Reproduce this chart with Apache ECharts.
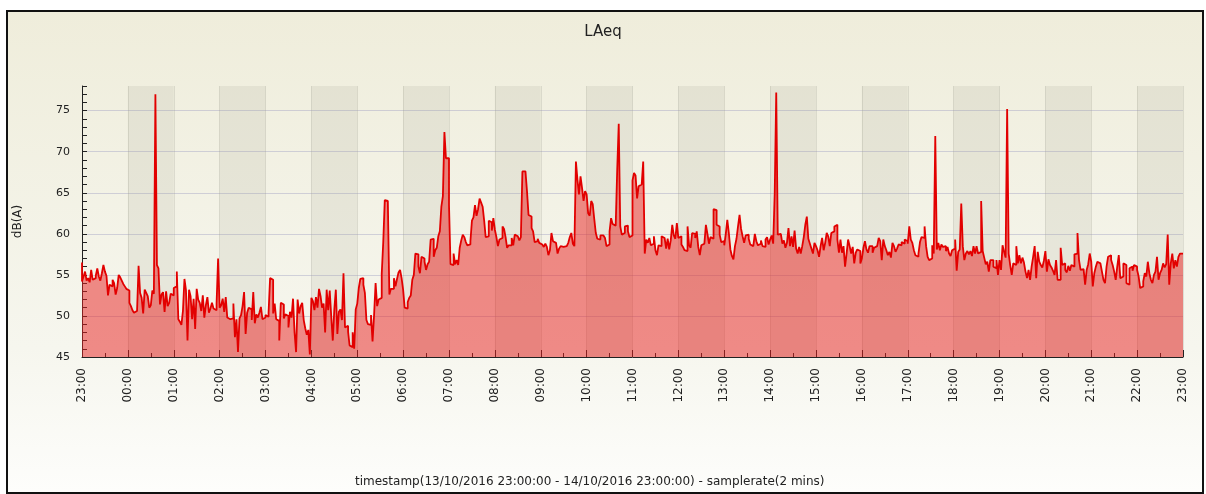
<!DOCTYPE html>
<html>
<head>
<meta charset="utf-8">
<title>LAeq</title>
<script src="https://cdn.jsdelivr.net/npm/echarts@6/dist/echarts.min.js"></script>
<style>
  html, body { margin: 0; padding: 0; background: #fff; }
  #frame {
    position: absolute; left: 6px; top: 10px; width: 1198px; height: 484px;
    box-sizing: border-box; border: 2px solid #111;
    background: linear-gradient(#efeddb, #f6f6ee 70%, #fdfdfb);
  }
  #myChart { position: absolute; left: 0; top: 0; width: 1206px; height: 494px; }
</style>
</head>
<body>
<div id="frame"></div>
<div id="myChart"></div>
<script>
// LAeq dB(A), one value every 2 minutes from 13/10/2016 23:00 to 14/10/2016 23:00
// one line per hour (30 samples), plus the closing sample at 23:00
const laeq = [
  56.5, 54.2, 54.8, 55.4, 54.3, 54.6, 54.1, 55.6, 54.4, 54.6, 54.9, 55.8, 54.8, 54.3, 55.2, 56.2, 55.4, 54.9, 52.5, 53.8, 53.6, 54.4, 54.0, 52.6, 53.4, 55.0, 54.7, 54.3, 53.9, 53.6,
  53.3, 53.1, 51.6, 51.2, 50.7, 50.4, 50.6, 50.5, 56.1, 52.8, 52.2, 50.3, 53.2, 52.8, 52.4, 51.0, 51.3, 53.1, 52.7, 77.0, 56.2, 55.8, 51.4, 52.6, 52.9, 50.5, 53.0, 51.2, 51.6, 52.7,
  52.5, 53.4, 53.6, 55.4, 49.6, 49.3, 48.9, 50.6, 54.5, 53.1, 47.0, 53.2, 52.4, 49.6, 52.1, 48.4, 53.3, 52.0, 51.6, 50.6, 52.5, 49.8, 51.3, 52.3, 50.4, 50.9, 51.6, 50.9, 50.7, 51.5,
  57.0, 51.0, 51.3, 52.1, 50.5, 52.3, 49.8, 49.6, 49.4, 49.7, 51.5, 47.4, 49.6, 45.6, 49.7, 50.1, 51.2, 52.9, 47.8, 50.4, 51.0, 50.8, 49.5, 52.9, 49.1, 50.2, 49.8, 50.4, 51.1, 49.6,
  49.8, 50.1, 49.9, 50.4, 54.6, 54.4, 50.3, 51.5, 49.6, 49.4, 47.0, 51.6, 51.4, 49.7, 50.2, 50.0, 48.6, 50.5, 49.8, 52.1, 48.0, 45.6, 52.0, 50.3, 51.2, 51.6, 49.5, 48.5, 47.7, 48.3,
  45.3, 52.2, 51.8, 50.7, 52.3, 51.0, 53.3, 52.4, 51.0, 51.5, 48.0, 53.2, 50.7, 53.1, 49.9, 47.0, 50.8, 53.2, 47.8, 50.5, 50.8, 49.5, 55.2, 48.6, 48.8, 48.1, 46.4, 46.2, 48.0, 46.0,
  50.8, 51.5, 53.4, 54.5, 54.6, 53.8, 52.8, 49.5, 49.0, 48.9, 50.1, 46.9, 50.1, 54.0, 51.2, 52.0, 52.2, 55.1, 59.0, 64.1, 64.0, 63.8, 52.6, 53.3, 53.3, 54.6, 53.6, 54.5, 55.3, 55.6,
  54.6, 53.2, 51.0, 50.9, 51.7, 52.2, 52.5, 54.4, 55.0, 57.6, 57.5, 56.0, 55.2, 57.2, 57.0, 56.6, 55.6, 56.3, 56.6, 59.3, 59.4, 57.2, 58.0, 58.3, 59.7, 60.3, 63.3, 64.6, 72.4, 69.2,
  69.2, 63.5, 56.3, 56.2, 57.6, 56.3, 56.8, 56.2, 58.3, 59.2, 59.9, 59.6, 59.0, 58.6, 58.7, 59.1, 61.6, 62.0, 63.5, 62.2, 63.0, 64.3, 63.8, 63.3, 61.6, 59.6, 59.7, 61.6, 61.4, 60.4,
  61.9, 60.5, 59.6, 58.5, 59.3, 59.5, 60.9, 60.6, 59.6, 58.3, 58.6, 58.6, 59.5, 58.6, 59.9, 59.7, 59.5, 59.2, 59.6, 67.6, 67.6, 67.5, 65.2, 62.3, 62.1, 60.7, 60.3, 59.0, 59.1, 59.4,
  58.9, 58.7, 58.5, 58.4, 58.8, 58.4, 57.4, 58.0, 60.1, 59.1, 58.9, 59.0, 57.6, 58.2, 58.5, 58.4, 58.6, 58.5, 58.4, 58.9, 59.6, 60.1, 58.8, 58.5, 68.8, 66.6, 64.8, 67.0, 65.6, 64.0,
  65.2, 64.8, 62.5, 62.2, 64.0, 63.6, 61.8, 60.1, 59.4, 59.3, 59.8, 59.8, 59.6, 59.5, 58.5, 58.7, 60.3, 61.9, 61.2, 61.0, 61.2, 67.8, 73.4, 60.9, 59.9, 60.1, 60.9, 61.0, 60.3, 59.6,
  59.8, 66.5, 67.4, 67.1, 64.3, 65.8, 66.0, 66.2, 68.8, 57.6, 59.3, 58.9, 59.5, 58.6, 58.8, 59.7, 58.0, 57.4, 58.6, 58.5, 59.7, 59.5, 59.6, 58.2, 59.4, 58.1, 59.2, 61.1, 59.8, 59.4,
  61.3, 59.5, 59.7, 58.7, 58.4, 58.0, 57.9, 60.9, 58.6, 58.3, 60.1, 60.0, 59.5, 60.3, 58.4, 57.4, 58.6, 58.8, 58.7, 61.1, 60.0, 58.8, 59.6, 59.4, 63.0, 62.9, 61.1, 60.9, 59.9, 59.0,
  59.1, 58.6, 60.0, 61.7, 60.1, 58.1, 57.3, 56.9, 58.5, 59.4, 60.9, 62.3, 60.6, 59.7, 58.9, 59.8, 59.9, 59.4, 58.7, 58.5, 58.7, 60.0, 59.1, 58.6, 58.8, 59.2, 58.5, 58.4, 59.3, 59.6,
  58.7, 59.3, 59.8, 58.8, 64.9, 77.2, 59.9, 60.0, 59.9, 58.8, 59.2, 58.3, 58.9, 60.7, 58.5, 59.7, 58.4, 60.4, 58.2, 57.6, 58.4, 57.6, 58.5, 59.6, 61.1, 62.1, 59.4, 58.8, 58.2, 57.6,
  58.9, 58.5, 58.0, 57.2, 58.5, 59.5, 58.0, 58.9, 60.1, 59.7, 58.5, 60.1, 60.3, 60.9, 61.1, 59.3, 57.7, 59.3, 57.7, 58.5, 56.0, 57.6, 59.3, 58.5, 57.6, 58.4, 56.4, 57.7, 58.1, 57.9,
  56.4, 57.0, 58.3, 59.1, 58.1, 57.7, 58.5, 58.5, 57.7, 58.3, 58.5, 58.5, 59.5, 59.1, 56.8, 59.3, 58.5, 58.0, 57.4, 57.8, 57.1, 58.9, 58.5, 57.8, 58.2, 58.7, 58.6, 59.0, 58.8, 59.3,
  59.1, 58.8, 60.9, 59.3, 58.9, 58.0, 57.4, 57.2, 57.6, 59.0, 59.6, 59.5, 60.9, 58.5, 57.2, 56.8, 57.0, 58.6, 57.6, 71.9, 58.1, 58.9, 58.0, 58.7, 58.4, 58.5, 57.9, 58.4, 57.6, 57.3,
  58.0, 58.2, 59.3, 55.5, 57.8, 58.1, 63.7, 58.5, 56.8, 57.6, 57.9, 57.5, 57.9, 57.3, 58.5, 57.6, 58.5, 57.6, 57.8, 64.0, 57.9, 57.1, 56.3, 56.6, 55.4, 56.8, 56.8, 56.0, 55.8, 56.8,
  55.0, 56.8, 55.6, 58.6, 57.8, 57.1, 75.2, 57.6, 56.2, 55.0, 56.4, 56.2, 58.5, 56.4, 57.4, 56.4, 57.1, 56.5, 55.4, 54.6, 55.6, 54.4, 56.0, 57.2, 58.5, 54.6, 57.8, 56.6, 56.2, 55.9,
  56.7, 57.9, 55.4, 56.9, 56.2, 55.9, 55.5, 55.0, 56.8, 54.4, 54.4, 58.3, 56.2, 56.4, 55.6, 55.3, 56.1, 55.5, 56.2, 56.0, 57.5, 57.6, 60.1, 56.8, 55.6, 55.7, 55.6, 53.8, 55.6, 56.3,
  57.6, 56.6, 53.6, 55.2, 56.0, 56.6, 56.4, 56.6, 55.4, 54.4, 54.0, 56.0, 57.2, 57.4, 56.8, 56.2, 55.4, 54.4, 56.0, 57.4, 54.6, 54.8, 56.4, 56.2, 54.0, 53.8, 55.8, 56.0, 55.5, 56.2,
  56.0, 55.6, 54.8, 53.4, 53.6, 54.2, 55.2, 54.8, 56.6, 55.2, 54.4, 54.0, 55.0, 55.4, 57.2, 54.4, 55.2, 55.6, 56.4, 55.9, 56.3, 59.9, 53.8, 56.4, 57.6, 55.8, 56.8, 56.0, 57.2, 57.6,
  57.6
]
const startHour = 23
const stepMinutes = 2
const yTicks = [45, 50, 55, 60, 65, 70, 75]
const xName = 'timestamp(13/10/2016 23:00:00 - 14/10/2016 23:00:00) - samplerate(2 mins)'

function pad (n) {
  return (n < 10 ? '0' : '') + n
}
// HH:MM label for every sample
const timeLabels = laeq.map((v, i) => {
  let m = startHour * 60 + i * stepMinutes
  return pad(Math.floor(m / 60) % 24) + ':' + pad(m % 60)
})

const font = 'DejaVu Sans'
let myChart = echarts.init(document.getElementById('myChart'), null, { renderer: 'canvas' })
myChart.setOption({
  animation: false,
  backgroundColor: 'transparent',
  title: {
    text: 'LAeq',
    left: 'center',
    top: 20,
    textStyle: { fontFamily: font, fontSize: 15, fontWeight: 'normal', color: '#222' }
  },
  graphic: [{
    type: 'text',
    left: 355,
    top: 476,
    style: { text: xName, fontFamily: font, fontSize: 12, fill: '#222' }
  }],
  grid: { left: 82, top: 86, right: 23, bottom: 137 },
  xAxis: [
    {
      type: 'category',
      data: timeLabels,
      boundaryGap: false,
      axisLine: { lineStyle: { color: '#222', width: 1 } },
      axisTick: {
        inside: true,
        length: 7,
        interval: (i) => i % 30 === 0,
        lineStyle: { color: '#222' }
      },
      axisLabel: {
        interval: (i) => i % 30 === 0,
        rotate: 90,
        margin: 11,
        fontFamily: font,
        fontSize: 12,
        color: '#222'
      },
      splitLine: {
        show: true,
        interval: (i) => i % 30 === 0,
        lineStyle: { color: 'rgba(150,150,140,0.25)' }
      },
      splitArea: {
        show: true,
        interval: (i) => i % 30 === 0,
        areaStyle: { color: ['rgba(0,0,0,0)', 'rgba(165,168,150,0.17)'] }
      }
    },
    {
      // half-hour ticks
      type: 'category',
      data: timeLabels,
      boundaryGap: false,
      position: 'bottom',
      axisLine: { show: false },
      axisTick: {
        inside: true,
        length: 4,
        interval: (i) => i % 30 === 15,
        lineStyle: { color: '#222' }
      },
      axisLabel: { show: false },
      splitLine: { show: false }
    }
  ],
  yAxis: [
    {
      type: 'value',
      name: 'dB(A)',
      nameLocation: 'middle',
      nameGap: 58,
      nameTextStyle: { fontFamily: font, fontSize: 12, color: '#222' },
      min: 45,
      max: 78,
      interval: 1,
      axisLine: { show: true, lineStyle: { color: '#222', width: 1 } },
      axisTick: { show: true, inside: true, length: 5, lineStyle: { color: '#222' } },
      axisLabel: {
        margin: 12,
        fontFamily: font,
        fontSize: 11,
        color: '#222',
        formatter: (v) => yTicks.indexOf(v) >= 0 ? String(v) : ''
      },
      splitLine: { show: false }
    },
    {
      // grid lines every 5 dB
      type: 'value',
      position: 'left',
      min: 45,
      max: 78,
      interval: 5,
      axisLine: { show: false },
      axisTick: { show: false },
      axisLabel: { show: false },
      splitLine: {
        show: true,
        showMinLine: false,
        showMaxLine: false,
        lineStyle: { color: 'rgba(140,140,185,0.35)' }
      }
    }
  ],
  series: [
    {
      name: 'LAeq',
      type: 'line',
      step: 'start',
      data: laeq,
      showSymbol: false,
      symbol: 'none',
      lineStyle: { color: '#e20000', width: 1.8 },
      areaStyle: { color: 'rgba(232,30,30,0.5)', opacity: 1 }
    }
  ]
})
</script>
</body>
</html>
